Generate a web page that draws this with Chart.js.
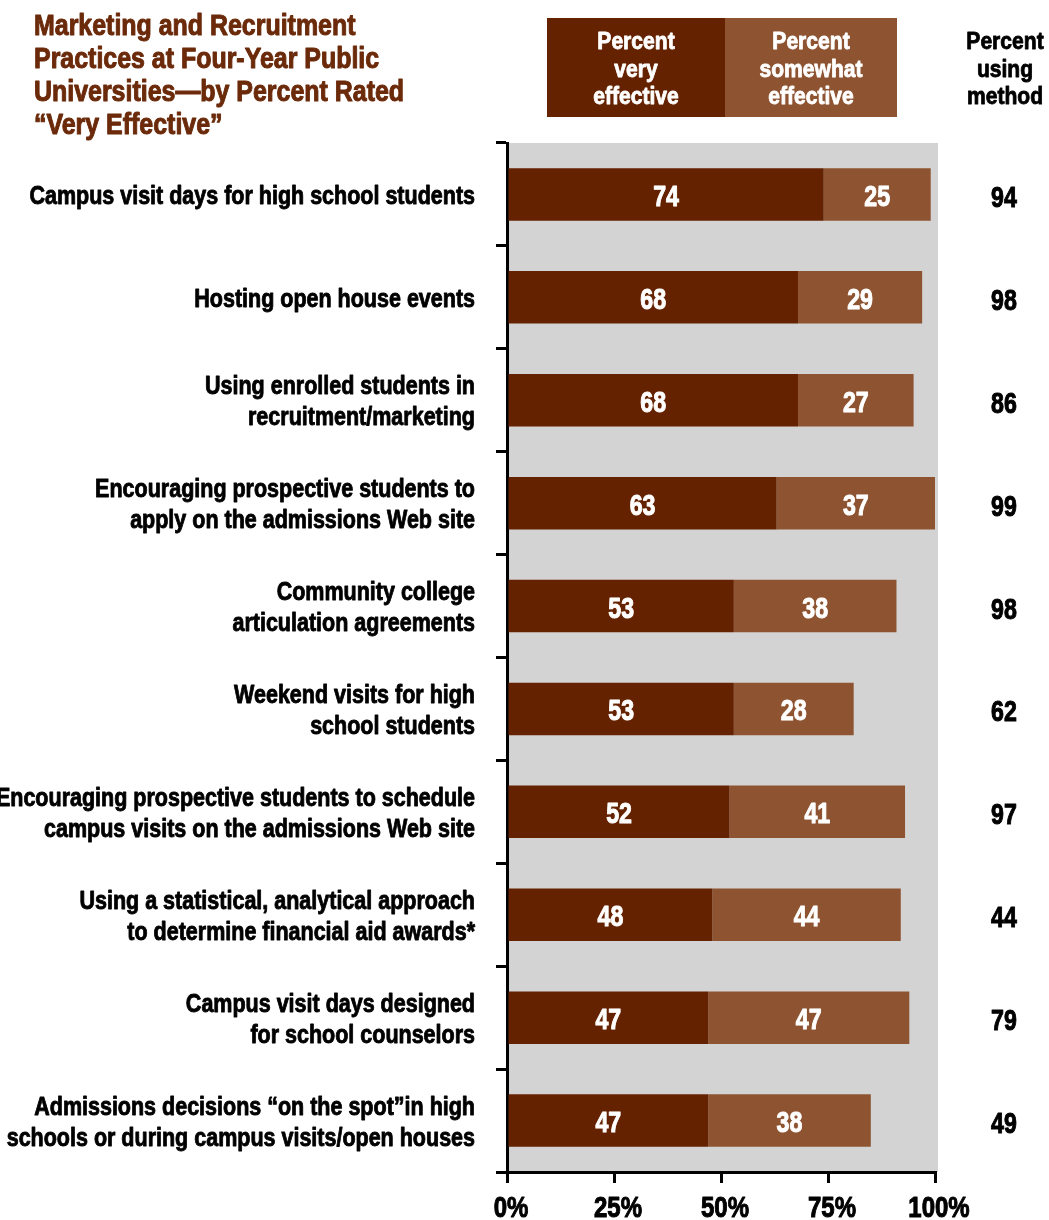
<!DOCTYPE html>
<html>
<head>
<meta charset="utf-8">
<script src="https://cdn.jsdelivr.net/npm/chart.js@4/dist/chart.umd.min.js"></script>
<style>
  html, body { margin: 0; padding: 0; background: #ffffff; }
  canvas { display: block; }
</style>
</head>
<body>
<canvas id="c" width="1049" height="1220"></canvas>
<script>
// Survey of marketing and recruitment practices, four-year public universities
const categories = [
  "Campus visit days for high school students",
  "Hosting open house events",
  ["Using enrolled students in", "recruitment/marketing"],
  ["Encouraging prospective students to", "apply on the admissions Web site"],
  ["Community college", "articulation agreements"],
  ["Weekend visits for high", "school students"],
  ["Encouraging prospective students to schedule", "campus visits on the admissions Web site"],
  ["Using a statistical, analytical approach", "to determine financial aid awards*"],
  ["Campus visit days designed", "for school counselors"],
  ["Admissions decisions \u201Con the spot\u201Din high", "schools or during campus visits/open houses"]
];
const veryEffective     = [74, 68, 68, 63, 53, 53, 52, 48, 47, 47];
const somewhatEffective = [25, 29, 27, 37, 38, 28, 41, 44, 47, 38];
const usingMethod       = [94, 98, 86, 99, 98, 62, 97, 44, 79, 49];
const xTicks = [0, 25, 50, 75, 100];

const titleLines = [
  "Marketing and Recruitment",
  "Practices at Four-Year Public",
  "Universities\u2014by Percent Rated",
  "\u201CVery Effective\u201D"
];
const legendVery = ["Percent", "very", "effective"];
const legendSomewhat = ["Percent", "somewhat", "effective"];
const usingHeader = ["Percent", "using", "method"];

const FONT = "'Liberation Sans', Arial, Helvetica, sans-serif";
const DARK = "#652200";
const LIGHT = "#8E5431";
const GRAY = "#D4D3D3";
const TITLE_COLOR = "#6B2A0A";
const NARROW = 0.86;   // horizontal squeeze for words
const NARROW_NUM = 0.8; // horizontal squeeze for figures

// Heavy bold text squeezed horizontally to give a condensed face
function condensedText(ctx, text, x, y, size, color, align, squeeze) {
  ctx.save();
  ctx.font = "bold " + size + "px " + FONT;
  ctx.fillStyle = color;
  ctx.strokeStyle = color;
  ctx.lineWidth = size * 0.035;
  ctx.lineJoin = "round";
  ctx.textAlign = align;
  ctx.textBaseline = "alphabetic";
  ctx.translate(x, y);
  ctx.scale(squeeze, 1);
  ctx.fillText(text, 0, 0);
  ctx.strokeText(text, 0, 0);
  ctx.restore();
}

// Gray panel behind the bars
const panelPlugin = {
  id: "panel",
  beforeDraw(chart) {
    const { ctx, chartArea: a } = chart;
    ctx.save();
    ctx.fillStyle = GRAY;
    ctx.fillRect(a.left, a.top, a.right - a.left + 3, a.bottom - a.top);
    ctx.restore();
  }
};

// Title, legend, axis labels, segment values and the "percent using" column
const annotatePlugin = {
  id: "annotate",
  afterDraw(chart) {
    const { ctx } = chart;
    const xScale = chart.scales.x;
    const yScale = chart.scales.y;

    // title
    titleLines.forEach((t, i) =>
      condensedText(ctx, t, 34, 35 + i * 33, 29, TITLE_COLOR, "left", NARROW));

    // legend boxes
    const boxes = [
      { x: 547, w: 178, color: DARK, lines: legendVery },
      { x: 725, w: 172, color: LIGHT, lines: legendSomewhat }
    ];
    boxes.forEach(b => {
      ctx.save();
      ctx.fillStyle = b.color;
      ctx.fillRect(b.x, 18, b.w, 99);
      ctx.restore();
      b.lines.forEach((t, i) =>
        condensedText(ctx, t, b.x + b.w / 2, 49 + i * 27.5, 24.5, "#ffffff", "center", NARROW));
    });

    // right column header
    usingHeader.forEach((t, i) =>
      condensedText(ctx, t, 1005, 49 + i * 27.5, 24.5, "#000000", "center", NARROW));

    // category labels
    categories.forEach((lab, i) => {
      const lines = Array.isArray(lab) ? lab : [lab];
      const cy = yScale.getPixelForValue(i);
      const first = cy + 9.5 - (lines.length - 1) * 15.5;
      lines.forEach((t, k) =>
        condensedText(ctx, t, 475, first + k * 31, 25, "#000000", "right", NARROW));
    });

    // x tick labels
    xTicks.forEach(v =>
      condensedText(ctx, v + "%", xScale.getPixelForValue(v) + 4, 1217, 30, "#000000", "center", NARROW_NUM));

    // values inside each segment
    chart.data.datasets.forEach((ds, di) => {
      const meta = chart.getDatasetMeta(di);
      meta.data.forEach((bar, i) => {
        const left = Math.min(bar.x, bar.base);
        const right = Math.max(bar.x, bar.base);
        condensedText(ctx, String(ds.data[i]), (left + right) / 2, bar.y + 11.5, 29, "#ffffff", "center", NARROW_NUM);
      });
    });

    // percent using method
    usingMethod.forEach((v, i) =>
      condensedText(ctx, String(v), 1004, yScale.getPixelForValue(i) + 12.5, 29, "#000000", "center", NARROW_NUM));
  }
};

new Chart(document.getElementById("c"), {
  type: "bar",
  data: {
    labels: categories,
    datasets: [
      { label: "Percent very effective", data: veryEffective, backgroundColor: DARK,
        barPercentage: 0.51, categoryPercentage: 1.0 },
      { label: "Percent somewhat effective", data: somewhatEffective, backgroundColor: LIGHT,
        barPercentage: 0.51, categoryPercentage: 1.0 }
    ]
  },
  options: {
    indexAxis: "y",
    responsive: false,
    animation: false,
    layout: { padding: { top: 143, right: 114, bottom: 0, left: 0 } },
    plugins: {
      legend: { display: false },
      tooltip: { enabled: false },
      title: { display: false }
    },
    scales: {
      x: {
        stacked: true,
        min: 0,
        max: 100,
        afterBuildTicks(scale) { scale.ticks = xTicks.map(v => ({ value: v })); },
        afterFit(scale) { scale.height = 48; },
        border: { display: true, color: "#000000", width: 3 },
        grid: { drawOnChartArea: false, drawTicks: true, tickLength: 11, color: "#000000", lineWidth: 3 },
        ticks: { display: false }
      },
      y: {
        stacked: true,
        afterFit(scale) { scale.width = 507; },
        border: { display: true, color: "#000000", width: 3 },
        grid: { offset: true, drawOnChartArea: false, drawTicks: true, tickLength: 11, color: "#000000", lineWidth: 3 },
        ticks: { display: false, autoSkip: false }
      }
    }
  },
  plugins: [panelPlugin, annotatePlugin]
});
</script>
</body>
</html>
